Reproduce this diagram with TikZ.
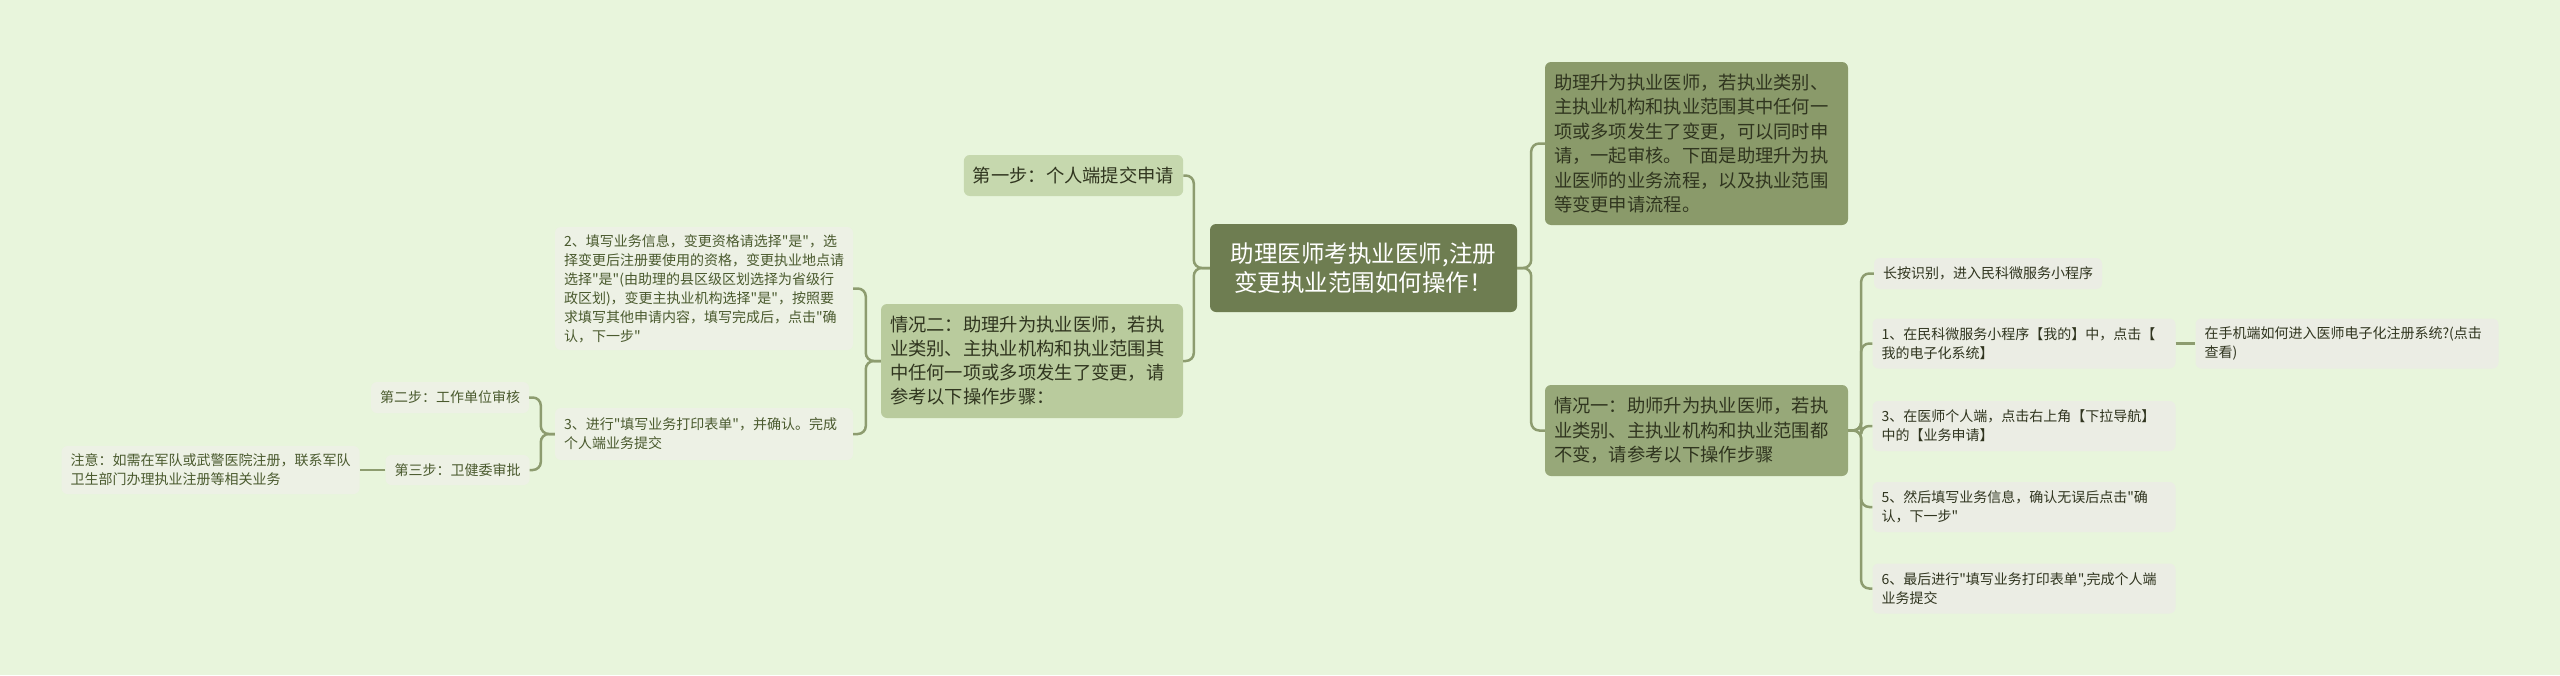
\documentclass[tikz,border=0pt]{standalone}
\usepackage{fontspec}
\newfontfamily\cjk{Noto Sans CJK SC}
\usepackage{tikz}

\definecolor{bgcol}{HTML}{E8F5DC}
\definecolor{rootcol}{HTML}{6E7D51}
\definecolor{darkcol}{HTML}{8A9A6A}
\definecolor{midcol}{HTML}{97A879}
\definecolor{lightcol}{HTML}{C6D8AE}
\definecolor{palecol}{HTML}{B9CB9D}
\definecolor{leafcol}{HTML}{EDF1E5}
\definecolor{rleafcol}{HTML}{EBEDE4}
\definecolor{linecol}{HTML}{8D9C6F}
\definecolor{inkcol}{HTML}{30351F}
\definecolor{leafink}{HTML}{4A5A2E}

\begin{document}
\begin{tikzpicture}[x=1pt, y=-1pt,
	conn/.style={draw=linecol, line width=2.5pt, rounded corners=8pt},
	rootbox/.style={fill=rootcol, text=white, rounded corners=6pt, align=center, text width=275pt, inner xsep=16pt, minimum height=88pt, font=\cjk\fontsize{23.5}{29}\selectfont},
	bigbox/.style={fill=darkcol, text=inkcol, rounded corners=6pt, align=left, text width=285pt, inner xsep=9pt, font=\cjk\fontsize{18.3}{24.5}\selectfont},
	subbox/.style={fill=lightcol, text=inkcol, rounded corners=6pt, align=left, inner xsep=9pt, font=\cjk\fontsize{18.3}{24}\selectfont},
	leafbox/.style={fill=leafcol, text=leafink, rounded corners=6pt, align=left, inner xsep=9pt, font=\cjk\fontsize{14}{19}\selectfont},
	rleaf/.style={leafbox, fill=rleafcol, text=inkcol}]

	\useasboundingbox (0,0) rectangle (2560,675);
	\fill[bgcol] (0,0) rectangle (2560,675);

	% centre
	\node[rootbox] (root) at (1363.5,268) {助理医师考执业医师,注册\\变更执业范围如何操作！};

	% right side
	\node[bigbox, minimum height=163pt] (shuoming) at (1696.5,143.5) {助理升为执业医师，若执业类别、\\主执业机构和执业范围其中任何一\\项或多项发生了变更，可以同时申\\请，一起审核。下面是助理升为执\\业医师的业务流程，以及执业范围\\等变更申请流程。};
	\node[bigbox, fill=midcol, minimum height=91pt] (qk1) at (1696.5,430.5) {情况一：助师升为执业医师，若执\\业类别、主执业机构和执业范围都\\不变，请参考以下操作步骤};

	\node[rleaf, minimum height=31pt] (r0) at (1988,273.5) {长按识别，进入民科微服务小程序};
	\node[rleaf, text width=285pt, minimum height=50pt] (r1) at (2024,343.5) {1、在民科微服务小程序【我的】中，点击【\\我的电子化系统】};
	\node[rleaf, text width=285pt, minimum height=50pt] (r1b) at (2347,343.5) {在手机端如何进入医师电子化注册系统?(点击\\查看)};
	\node[rleaf, text width=285pt, minimum height=50pt] (r3) at (2024,426) {3、在医师个人端，点击右上角【下拉导航】\\中的【业务申请】};
	\node[rleaf, text width=285pt, minimum height=50pt] (r5) at (2024,507) {5、然后填写业务信息，确认无误后点击"确\\认，下一步"};
	\node[rleaf, text width=285pt, minimum height=50pt] (r6) at (2024,588.5) {6、最后进行"填写业务打印表单",完成个人端\\业务提交};

	% left side
	\node[subbox, minimum height=41pt] (step1) at (1073.5,175.5) {第一步：个人端提交申请};
	\node[subbox, fill=palecol, text width=284pt, minimum height=114pt] (qk2) at (1032,361) {情况二：助理升为执业医师，若执\\业类别、主执业机构和执业范围其\\中任何一项或多项发生了变更，请\\参考以下操作步骤：};

	\node[leafbox, text width=280pt, minimum height=123pt] (tian) at (704,288.5) {2、填写业务信息，变更资格请选择"是"，选\\择变更后注册要使用的资格，变更执业地点请\\选择"是"(由助理的县区级区划选择为省级行\\政区划)，变更主执业机构选择"是"，按照要\\求填写其他申请内容，填写完成后，点击"确\\认，下一步"};
	\node[leafbox, text width=280pt, minimum height=52pt] (dayin) at (704,434) {3、进行"填写业务打印表单"，并确认。完成\\个人端业务提交};

	\node[leafbox, minimum height=31pt] (step2) at (450,397.5) {第二步：工作单位审核};
	\node[leafbox, minimum height=30pt] (step3) at (457.5,470) {第三步：卫健委审批};
	\node[leafbox, minimum height=48pt] (zhuyi) at (210.5,470) {注意：如需在军队或武警医院注册，联系军队\\卫生部门办理执业注册等相关业务};

	% connectors
	\draw[conn] (root.east) -- ++(14,0) |- (shuoming.west);
	\draw[conn] (root.east) -- ++(14,0) |- (qk1.west);
	\foreach \leaf in {r0,r1,r3,r5,r6}
		\draw[conn] (qk1.east) -- ++(13,0) |- (\leaf.west);
	\draw[conn] (r1.east) -- (r1b.west);

	\draw[conn] (root.west) -- ++(-16,0) |- (step1.east);
	\draw[conn] (root.west) -- ++(-16,0) |- (qk2.east);
	\draw[conn] (qk2.west) -- ++(-15,0) |- (tian.east);
	\draw[conn] (qk2.west) -- ++(-15,0) |- (dayin.east);
	\draw[conn] (dayin.west) -- ++(-14,0) |- (step2.east);
	\draw[conn] (dayin.west) -- ++(-14,0) |- (step3.east);
	\draw[conn] (step3.west) -- (zhuyi.east);
\end{tikzpicture}
\end{document}
